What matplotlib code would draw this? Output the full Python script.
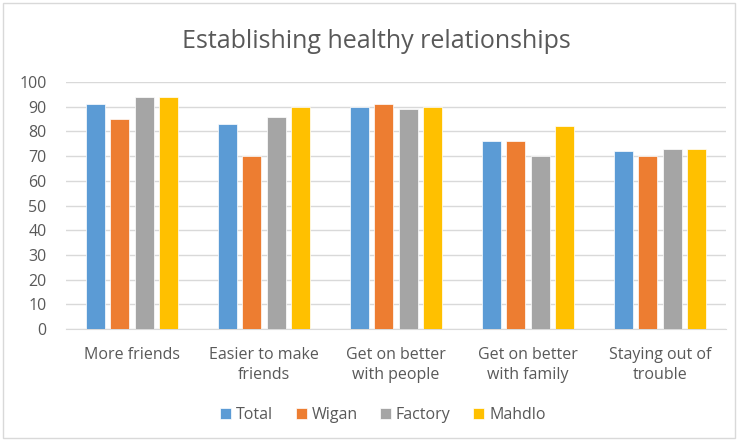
import numpy as np
import matplotlib.pyplot as plt
from matplotlib.patches import Rectangle

categories = ['More friends', 'Easier to make\nfriends', 'Get on better\nwith people',
              'Get on better\nwith family', 'Staying out of\ntrouble']
series_names = ['Total', 'Wigan', 'Factory', 'Mahdlo']
total = [91, 83, 90, 76, 72]
wigan = [85, 70, 91, 76, 70]
factory = [94, 86, 89, 70, 73]
mahdlo = [94, 90, 90, 82, 73]
colors = ['#5b9bd5', '#ed7d31', '#a5a5a5', '#ffc000']

plt.rcParams['font.family'] = ['Open Sans', 'DejaVu Sans']

fig = plt.figure(figsize=(7.38, 4.41), dpi=100)
ax = fig.add_axes([66 / 738, 1 - 329 / 441, 660 / 738, 247 / 441])

x = np.arange(len(categories))
width = 0.144
step = 0.182
for i, (name, vals) in enumerate(zip(series_names, [total, wigan, factory, mahdlo])):
    ax.bar(x + (i - 1.5) * step, vals, width, color=colors[i], label=name,
           edgecolor='white', linewidth=0.5, zorder=3)

ax.set_xlim(-0.5, len(categories) - 0.5)
ax.set_ylim(0, 100)
ax.set_yticks(range(0, 101, 10))
ax.yaxis.grid(True, color='#d9d9d9', linewidth=1, zorder=0)
for s in ['top', 'right', 'left']:
    ax.spines[s].set_visible(False)
ax.spines['bottom'].set_color('#d9d9d9')
ax.tick_params(axis='both', length=0, colors='#595959', labelsize=11.5)
ax.tick_params(axis='y', pad=14)
ax.tick_params(axis='x', pad=13)
ax.set_xticks(x)
ax.set_xticklabels(categories, linespacing=1.35)

fig.text(0.51, 1 - 42 / 441, 'Establishing healthy relationships', ha='center', va='center',
         fontsize=18, color='#595959')

ax.legend(loc='center', bbox_to_anchor=(0.48, -0.35), ncol=4, frameon=False,
          fontsize=11.5, labelcolor='#595959', handlelength=0.7, handleheight=0.7,
          handletextpad=0.3, columnspacing=1.4)

fig.patches.append(Rectangle((3 / 738, 3 / 441), 732 / 738, 435 / 441, transform=fig.transFigure,
                             fill=False, edgecolor='#d9d9d9', linewidth=1))

fig.savefig('out.png', dpi=100)
